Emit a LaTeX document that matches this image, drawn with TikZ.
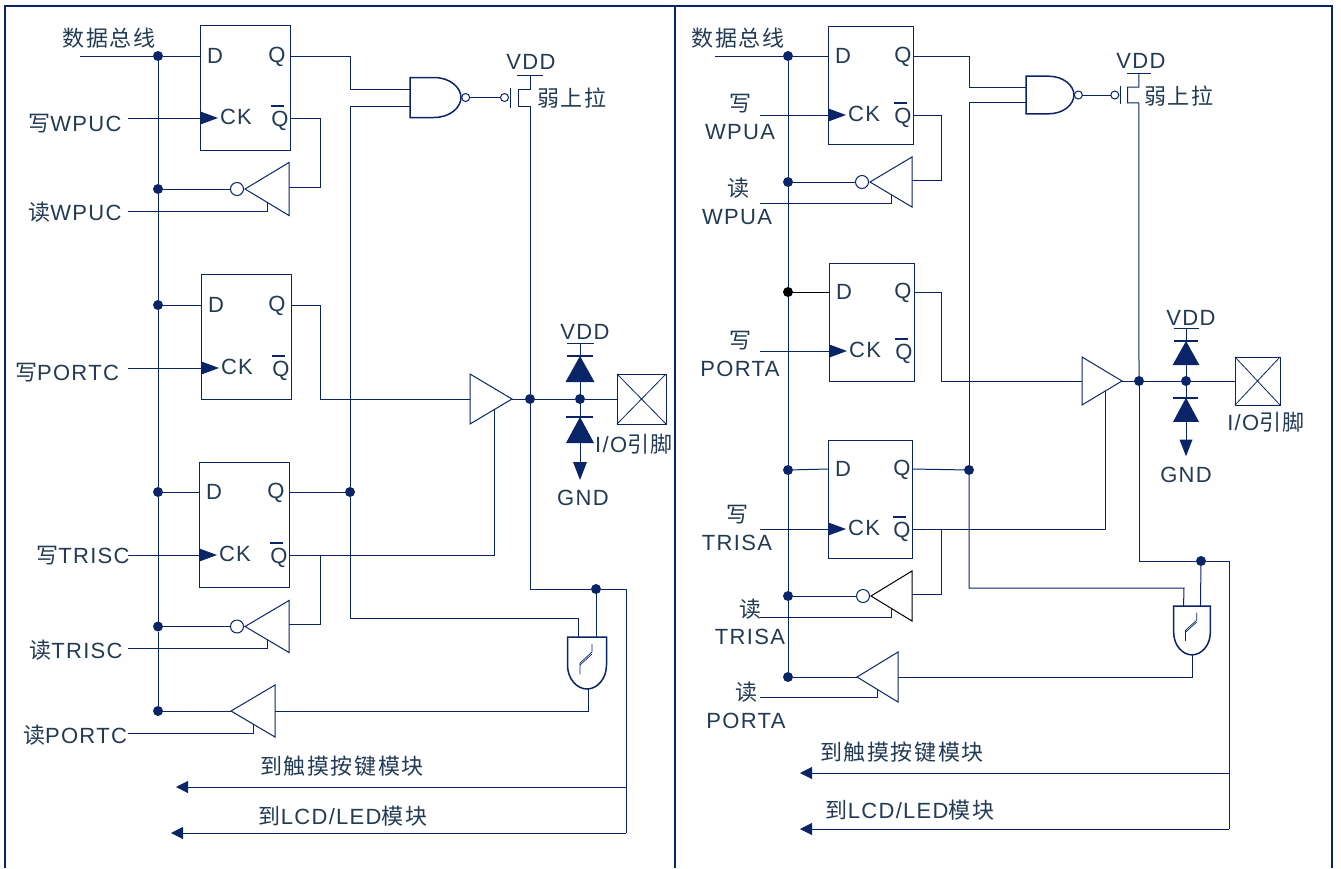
\documentclass[tikz,border=0pt]{standalone}
\usepackage{fontspec}
\setmainfont[LetterSpace=6]{Liberation Sans}
\newfontfamily\cjk[LetterSpace=7]{Noto Sans CJK SC}
\usetikzlibrary{arrows.meta,shapes.geometric}
\definecolor{navy}{RGB}{10,36,104}
\definecolor{ink}{RGB}{34,58,84}
\newcommand{\nqbar}{\leavevmode\rlap{\smash{\raisebox{20pt}{\color{navy}\rule{13pt}{2pt}}}}Q}
\tikzset{
  wire/.style = {navy, line width = 1pt, line join = miter},
  rim/.style = {navy, line width = 1.5pt},
  lbl/.style = {text = ink, inner sep = 0pt},
  ffbox/.style = {draw = navy, line width = 1pt, rectangle, inner sep = 0pt, outer sep = 0pt, anchor = north west},
  dot/.style = {circle, fill = navy, minimum size = 10pt, inner sep = 0pt, outer sep = 0pt},
  bub/.style = {circle, draw = navy, fill = white, line width = 1pt, minimum size = #1, inner sep = 0pt, outer sep = 0pt},
  buf/.style 2 args = {draw = navy, line width = 1pt, isosceles triangle, isosceles triangle stretches, minimum height = #1, minimum width = #2, inner sep = 0pt, outer sep = 0pt, anchor = apex},
  toleft/.style = {shape border rotate = 180},
  clk/.style = {-{Triangle[length = 18pt, width = 13pt]}},
  tofar/.style = {-{Triangle[length = 12pt, width = 12pt]}}
}
\begin{document}
\begin{tikzpicture}[x = 1pt, y = -1pt, font = \fontsize{22}{25}\selectfont]
\useasboundingbox (0,0) rectangle (1341,868);
\draw [rim] (5,868) -- (5,6) -- (1332,6) -- (1332,868);
\draw [rim] (675,6) -- (675,868);
% flip-flops
\foreach \n/\l/\t/\w/\h/\dy/\cy/\st/\qx in {wpuc/200/25/90/125/56/118/128/13, portc/201/274/90/125/305/368/128/14, trisc/199/462/90/125/492/555/128/13, wpua/828/26/85/118/56/115/760/10, porta/829/263/85/118/292/351/760/11, trisa/828/440/84/118/469/529/760/10} {
  \node [ffbox, minimum width = \w pt, minimum height = \h pt] (ff\n) at (\l,\t) {};
  \coordinate (d\n) at (\l,\dy);
  \coordinate (q\n) at (\l+\w,\dy);
  \coordinate (nq\n) at (\l+\w,\cy);
  \coordinate (ck\n) at (\l+18,\cy);
  \coordinate (wr\n) at (\st,\cy);
  \node [lbl] (ld\n) at (\l+15,\dy) {D};
  \node [lbl] (lq\n) at (\l+\w-\qx,\dy+1) {Q};
  \node [lbl] (lck\n) at (\l+36,\cy-1) {CK};
  \node [lbl] (lnq\n) at (\l+\w-10,\cy+3) {\nqbar};
  \draw [wire, clk] (wr\n) -- (ck\n);
}
% buffers, left
\node [buf = {44}{53}, toleft] (bwpuc) at (245,189) {};
\node [bub = 13pt] (nwpuc) at (237,189) {};
\node [buf = {44}{52}, toleft] (btrisc) at (245,626.5) {};
\node [bub = 13pt] (ntrisc) at (237,626.5) {};
\node [buf = {44}{52}, toleft] (bportc) at (231,711) {};
\node [buf = {42}{50}] (bmainc) at (512,399) {};
% buffers, right
\node [buf = {42}{50}, toleft] (bwpua) at (870,182) {};
\node [bub = 13pt] (nwpua) at (862,182) {};
\node [buf = {41}{50}, toleft, draw = black] (btrisa) at (871,596) {};
\node [bub = 13pt] (ntrisa) at (863,596) {};
\node [buf = {41}{50}, toleft] (bporta) at (857,677) {};
\node [buf = {40}{48}] (bmaina) at (1122,381) {};
% nand gate and pull-up
\foreach \n/\x/\y/\s in {c/410/97.5/1, a/1026/95/.94} {
  \begin{scope}[shift = {(\x,\y)}, xscale = \s, yscale = \s]
  \draw [rim, fill = white] (0,-20) -- (24,-20) .. controls (40,-20) and (51,-10) .. (51,0) .. controls (51,10) and (40,20) .. (24,20) -- (0,20) -- cycle;
  \node [bub = 8pt] (nb\n) at (55.7,0) {};
  \node [bub = 8pt] (gb\n) at (94.5,0) {};
  \coordinate (ina\n) at (0,-8.5);
  \coordinate (inb\n) at (0,8.5);
  \coordinate (vdd\n) at (120,-22.5);
  \coordinate (drain\n) at (120,8.5);
  \draw [wire] (nb\n) -- (gb\n);
  \draw [wire] (100,-10) -- (100,10);
  \draw [wire] (107,-22.5) -- (133,-22.5);
  \draw [wire] (vdd\n) -- (120,-8.5) -- (108,-8.5) -- (108,8.5) -- (drain\n);
  \end{scope}
}
% schmitt input gate
\foreach \n/\x/\y/\s in {c/587/637/1, a/1192/606/.94} {
  \begin{scope}[shift = {(\x,\y)}, xscale = \s, yscale = \s]
  \draw [rim, fill = white] (-19.5,0) -- (19.5,0) -- (19.5,28) .. controls (19.5,42) and (10,52) .. (0,52) .. controls (-10,52) and (-19.5,42) .. (-19.5,28) -- cycle;
  \draw [navy, line width = .7pt] (-7,37) -- (-7,26) -- (5,15) -- (5,7);
  \draw [navy, line width = .7pt] (-7,28) -- (5,17);
  \coordinate (ga\n) at (-9,0);
  \coordinate (gb\n) at (9,0);
  \coordinate (go\n) at (1,52);
  \end{scope}
}
% clamp diodes
\foreach \n/\x/\y/\s in {c/580/399/1, a/1186/381/.93} {
  \begin{scope}[shift = {(\x,\y)}, xscale = \s, yscale = \s]
  \draw [wire] (-13,-56) -- (14,-56);
  \draw [wire] (0,-56) -- (0,63);
  \draw [navy, line width = 2pt] (-13,-43) -- (13,-43);
  \draw [navy, line width = 2pt] (-14,18) -- (13,18);
  \fill [navy] (0,-43) -- (14.5,-17) -- (-14.5,-17) -- cycle;
  \fill [navy] (0,18) -- (14,44) -- (-14,44) -- cycle;
  \fill [navy] (-7,63) -- (7,63) -- (0,81) -- cycle;
  \end{scope}
}
% pads
\node [draw = navy, line width = 1pt, minimum width = 49pt, minimum height = 50pt, inner sep = 0pt, outer sep = 0pt] (padc) at (641.5,399) {};
\node [draw = navy, line width = 1pt, minimum width = 45pt, minimum height = 48pt, inner sep = 0pt, outer sep = 0pt] (pada) at (1257.5,381) {};
\foreach \n in {padc, pada} {
  \draw [wire, line width = .8pt] (\n.north west) -- (\n.south east);
  \draw [wire, line width = .8pt] (\n.south west) -- (\n.north east);
}
% junctions
\foreach \n/\x/\y in {bc1/158/56, bc2/158/189, bc3/158/305, bc4/158/492, bc5/158/626.5, bc6/158/711, qc/350/492, outc/530/399, midc/580/399, fbc/596/589, ba1/788/56, ba2/788/182, ba4/788/470, ba5/788/596, ba6/788/677, qa/969/470, outa/1139/381, mida/1186/381, fba/1201/561}
  \node [dot] (\n) at (\x,\y) {};
\node [dot, fill = black] (ba3) at (788,292) {};
% free ends
\foreach \n/\x/\y in {indc/80/56, rdwc/128/211, rdtc/128/648, rdpc/128/733, tapwc/320/187, taptc/320/624, turnc/320/399, cornc/578/618, enc/494/410, lcdc/626/833, touchc/626/787, tiptc/176/787, tiplc/171/833, inda/715/56, rdwa/760/203, rdta/760/617, rdpa/760/697, tapwa/941/180, tapta/941/594, turna/941/381, corna/1184/588, ena/1105/391, lcda/1229/829, toucha/1229/773, tipta/800/773, tipla/800/829}
  \coordinate (\n) at (\x,\y);
% left wires
\draw [wire] (indc) -- (bc1) -- (dwpuc);
\draw [wire] (bc1) -- (bc2) -- (bc3) -- (bc4) -- (bc5) -- (bc6);
\draw [wire] (bc2) -- (nwpuc);
\draw [wire] (bc3) -- (dportc);
\draw [wire] (bc4) -- (dtrisc);
\draw [wire] (bc5) -- (ntrisc);
\draw [wire] (bc6) -- (bportc.apex);
\draw [wire] (nqwpuc) -| (tapwc) -- (tapwc -| bwpuc.lower side);
\draw [wire] (rdwc) -| (bwpuc.left side);
\draw [wire] (nqtrisc -| taptc) -- (taptc) -- (taptc -| btrisc.lower side);
\draw [wire] (rdtc) -| (btrisc.left side);
\draw [wire] (rdpc) -| (bportc.left side);
\draw [wire] (qwpuc) -| (qc |- inac) -- (inac);
\draw [wire] (inbc) -| (qc);
\draw [wire] (qtrisc) -- (qc);
\draw [wire] (qc) |- (cornc) -- (gac);
\draw [wire] (qportc) -| (turnc) -- (bmainc.lower side);
\draw [wire] (nqtrisc) -| (enc);
\draw [wire] (bmainc.apex) -- (outc) -- (midc) -- (padc.west);
\draw [wire] (outc) -- (drainc);
\draw [wire] (outc) |- (fbc);
\draw [wire] (fbc) -- (gbc);
\draw [wire] (fbc) -| (lcdc);
\draw [wire] (goc) |- (bportc.lower side);
\draw [wire, tofar] (touchc) -- (tiptc);
\draw [wire, tofar] (lcdc) -- (tiplc);
% right wires
\draw [wire] (inda) -- (ba1) -- (dwpua);
\draw [wire] (ba1) -- (ba2) -- (ba3) -- (ba4) -- (ba5) -- (ba6);
\draw [wire] (ba2) -- (nwpua);
\draw [wire, black] (ba3) -- (dporta);
\draw [wire] (ba4) -- (dtrisa);
\draw [wire] (ba5) -- (ntrisa);
\draw [wire] (ba6) -- (bporta.apex);
\draw [wire] (nqwpua) -| (tapwa) -- (tapwa -| bwpua.lower side);
\draw [wire] (rdwa) -| (bwpua.left side);
\draw [wire] (nqtrisa -| tapta) -- (tapta) -- (tapta -| btrisa.lower side);
\draw [wire] (rdta) -| (btrisa.left side);
\draw [wire] (rdpa) -| (bporta.left side);
\draw [wire] (qwpua) -| (qa |- inaa) -- (inaa);
\draw [wire] (inba) -| (qa);
\draw [wire] (qtrisa) -- (qa);
\draw [wire] (qa) |- (corna) -- (gaa);
\draw [wire] (qporta) -| (turna) -- (bmaina.lower side);
\draw [wire] (nqtrisa) -| (ena);
\draw [wire] (bmaina.apex) -- (outa) -- (mida) -- (pada.west);
\draw [wire] (outa) -- (draina);
\draw [wire] (outa) |- (fba);
\draw [wire] (fba) -- (gba);
\draw [wire] (fba) -| (lcda);
\draw [wire] (goa) |- (bporta.lower side);
\draw [wire, tofar] (toucha) -- (tipta);
\draw [wire, tofar] (lcda) -- (tipla);
% labels
\foreach \n/\x/\y/\s in {tbusc/109/38/{\cjk 数据总线}, twc/75/124/{{\cjk 写}WPUC}, trwc/75/212/{{\cjk 读}WPUC}, tpc/67/373/{{\cjk 写}PORTC}, twtc/83/556/{{\cjk 写}TRISC}, trtc/76/650/{{\cjk 读}TRISC}, trpc/75/735/{{\cjk 读}PORTC}, tvc/531/62/VDD, tpuc/572/98/{\cjk 弱上拉}, tvdc/585/332/VDD, tgc/583/498/GND, tioc/634/444/{I/O{\cjk 引脚}}, ttoc/342/766/{\cjk 到触摸按键模块}, tlcc/343/816/{{\cjk 到}LCD/LED{\cjk 模块}}, tbusa/738/38/{\cjk 数据总线}, twa1/740/104/{\cjk 写}, twa2/740/132/WPUA, tra1/738/188/{\cjk 读}, tra2/737/217/WPUA, tpa1/740/341/{\cjk 写}, tpa2/740/369/PORTA, tta1/737/515/{\cjk 写}, tta2/737/543/TRISA, trt1/750/609/{\cjk 读}, trt2/750/637/TRISA, trp1/746/692/{\cjk 读}, trp2/746/721/PORTA, tva/1141/61/VDD, tpua/1179/96/{\cjk 弱上拉}, tvda/1191/318/VDD, tga/1186/475/GND, tioa/1266/422/{I/O{\cjk 引脚}}, ttoa/902/752/{\cjk 到触摸按键模块}, tlca/910/810/{{\cjk 到}LCD/LED{\cjk 模块}}}
  \node [lbl] (\n) at (\x,\y) {\s};
\end{tikzpicture}
\end{document}
